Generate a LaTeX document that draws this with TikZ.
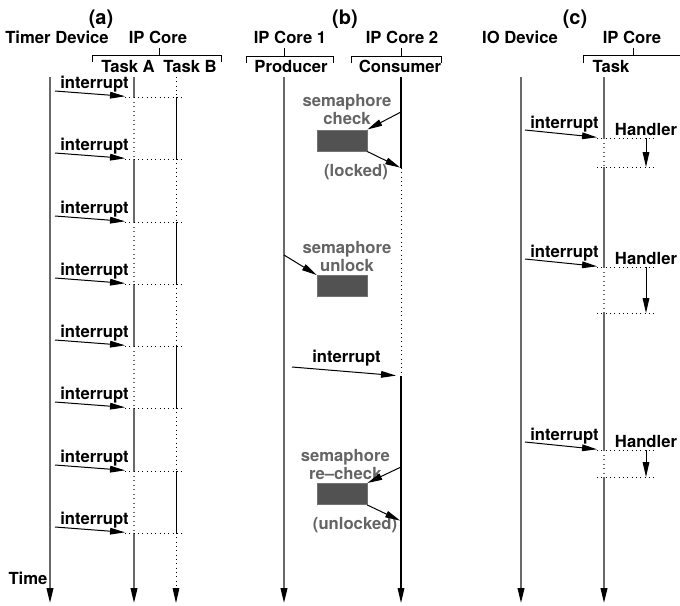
\documentclass[tikz,border=0pt]{standalone}
\usepackage{fontspec}
\setmainfont{TeX Gyre Heros}
\usepackage{tikz}
\usetikzlibrary{positioning, arrows.meta}

\definecolor{lifegray}{RGB}{105,105,105}
\definecolor{semgray}{RGB}{100,100,100}
\definecolor{boxgray}{RGB}{82,82,82}

\begin{document}
\begin{tikzpicture}[x=0.6pt, y=-0.6pt]

% Styles
\tikzset{
	title/.style={font=\large\bfseries, inner sep=0pt},
	head/.style={font=\bfseries, inner sep=0pt},
	lbl/.style={font=\bfseries, inner sep=1pt},
	semlbl/.style={font=\fontsize{10}{9.2}\selectfont\bfseries, text=semgray, align=center, inner sep=0pt},
	sembox/.style={rectangle, draw=black!55, fill=boxgray, minimum width=30pt, minimum height=12.8pt, inner sep=0pt},
	endtip/.style={-{Triangle[length=9pt, width=4pt, color=black]}},
	life/.style={draw=lifegray, line width=1.1pt},
	lifedot/.style={draw=lifegray, line width=0.7pt, dotted},
	thinlife/.style={draw=black, line width=0.55pt},
	thindot/.style={draw=black, line width=0.6pt, dotted},
	arr/.style={draw=black, line width=0.6pt, -{Triangle[length=9pt, width=4pt]}},
	irq/.style={arr, shorten >=5.4pt},
	brace/.style={draw=black, line width=0.6pt}
}

\useasboundingbox (0,0) rectangle (680,605);

% (a) periodic timer interrupts
\node[title] (ta) at (101,19) {(a)};
\node[head] (timer) at (57,37.5) {Timer Device};
\node[head] (corea) at (158,37.5) {IP Core};
\node[head] (taska) at (128,66) {Task A};
\node[head] (taskb) at (190,66) {Task B};
\draw[brace] (92,62) -- (92,55) -- (221,55) -- (221,62) (159,48) -- (159,55);
\node[head] (time) at (28,578) {Time};

\coordinate (tmTop) at (50,77); \coordinate (tmEnd) at (50,603);
\coordinate (aTop) at (134,77); \coordinate (aEnd) at (134,603);
\coordinate (bTop) at (176,77); \coordinate (bEnd) at (176,603);
\coordinate (dl) at (125,77); \coordinate (dr) at (184,77);
\coordinate (a1) at (134,97); \coordinate (ia1) at (55,91);
\coordinate (a2) at (134,159); \coordinate (ia2) at (55,153);
\coordinate (a3) at (134,222); \coordinate (ia3) at (55,216);
\coordinate (a4) at (134,284); \coordinate (ia4) at (55,278);
\coordinate (a5) at (134,346); \coordinate (ia5) at (55,340);
\coordinate (a6) at (134,408); \coordinate (ia6) at (55,402);
\coordinate (a7) at (134,471); \coordinate (ia7) at (55,465);
\coordinate (a8) at (134,533); \coordinate (ia8) at (55,527);

\draw[life, endtip] (tmTop) -- (tmEnd);
\draw[life, endtip] (aTop) -- (a1) (a2) -- (a3) (a4) -- (a5) (a6) -- (a7) (a8) -- (aEnd);
\draw[lifedot] (a1) -- (a2) (a3) -- (a4) (a5) -- (a6) (a7) -- (a8);
\draw[thinlife] (a1 -| bTop) -- (a2 -| bTop) (a3 -| bTop) -- (a4 -| bTop)
	(a5 -| bTop) -- (a6 -| bTop) (a7 -| bTop) -- (a8 -| bTop);
\draw[thindot, endtip] (bTop) -- (a1 -| bTop) (a2 -| bTop) -- (a3 -| bTop)
	(a4 -| bTop) -- (a5 -| bTop) (a6 -| bTop) -- (a7 -| bTop) (a8 -| bTop) -- (bEnd);
\draw[thindot] (a1 -| dl) -- (a1 -| dr) (a2 -| dl) -- (a2 -| dr) (a3 -| dl) -- (a3 -| dr)
	(a4 -| dl) -- (a4 -| dr) (a5 -| dl) -- (a5 -| dr) (a6 -| dl) -- (a6 -| dr)
	(a7 -| dl) -- (a7 -| dr) (a8 -| dl) -- (a8 -| dr);

\draw[irq] (ia1) -- node[lbl, above] {interrupt} (a1);
\draw[irq] (ia2) -- node[lbl, above] {interrupt} (a2);
\draw[irq] (ia3) -- node[lbl, above] {interrupt} (a3);
\draw[irq] (ia4) -- node[lbl, above] {interrupt} (a4);
\draw[irq] (ia5) -- node[lbl, above] {interrupt} (a5);
\draw[irq] (ia6) -- node[lbl, above] {interrupt} (a6);
\draw[irq] (ia7) -- node[lbl, above] {interrupt} (a7);
\draw[irq] (ia8) -- node[lbl, above] {interrupt} (a8);

% (b) producer / consumer with semaphore
\node[title] (tb) at (345,19) {(b)};
\node[head] (core1) at (290,37.5) {IP Core 1};
\node[head] (core2) at (402,37.5) {IP Core 2};
\node[head] (prod) at (291,66) {Producer};
\node[head] (cons) at (400,66) {Consumer};
\draw[brace] (246,63) -- (246,56) -- (333,56) -- (333,63) (284,48) -- (284,56);
\draw[brace] (351,63) -- (351,56) -- (441,56) -- (441,63) (401,48) -- (401,56);

\coordinate (pTop) at (284,77); \coordinate (pEnd) at (284,603);
\coordinate (cTop) at (401,77); \coordinate (cEnd) at (401,603);
\coordinate (c1) at (401,168); \coordinate (c2) at (401,376);
\coordinate (c3) at (401,521);
\draw[life, endtip] (pTop) -- (pEnd);
\draw[thinlife, line width=0.65pt, endtip] (cTop) -- (c1) (c2) -- (cEnd);
\draw[thindot] (c1) -- (c2);

\node[sembox] (chk) at (342,140.5) {};
\node[semlbl, above=3pt of chk, xshift=3pt] (chkl) {semaphore\\check};
\node[semlbl] (lck) at (356,172) {(locked)};
\coordinate (chkIn) at (401,112);
\draw[arr] (chkIn) -- (chk.north east);
\draw[arr, shorten >=0.6pt] (chk.south east) -- (c1);

\node[sembox] (unl) at (342,286) {};
\node[semlbl, above=2pt of unl, xshift=3pt] (unll) {semaphore\\unlock};
\coordinate (unlOut) at (284,255);
\draw[arr] (unlOut) -- (unl.north west);

\coordinate (ib) at (292,367);
\draw[irq, shorten >=3pt] (ib) -- node[lbl, above=2pt] {interrupt} (c2);

\node[sembox] (rchk) at (342,494) {};
\node[semlbl, above=2pt of rchk, xshift=2pt] (rchkl) {semaphore\\re--check};
\node[semlbl] (ulck) at (355,525) {(unlocked)};
\coordinate (rchkIn) at (401,467);
\draw[arr] (rchkIn) -- (rchk.north east);
\draw[arr, shorten >=0.6pt] (rchk.south east) -- (c3);

% (c) IO device interrupts with handler
\node[title] (tc) at (575,19) {(c)};
\node[head] (iodev) at (520,37.5) {IO Device};
\node[head] (corec) at (632,37.5) {IP Core};
\node[head] (taskc) at (611,66) {Task};
\draw[brace] (583,63) -- (583,55) -- (680,55) (633,48) -- (633,55);

\coordinate (ioTop) at (521,77); \coordinate (ioEnd) at (521,603);
\coordinate (kTop) at (604,77); \coordinate (kEnd) at (604,603);
\coordinate (hl) at (597,77); \coordinate (hr) at (654,77);
\coordinate (hx) at (646,77);
\coordinate (k1) at (604,138); \coordinate (k2) at (604,167);
\coordinate (k3) at (604,267); \coordinate (k4) at (604,313);
\coordinate (k5) at (604,450); \coordinate (k6) at (604,477);
\coordinate (ic1) at (525,130); \coordinate (ic2) at (525,259);
\coordinate (ic3) at (525,442);

\draw[life, endtip] (ioTop) -- (ioEnd);
\draw[life, endtip] (kTop) -- (k1) (k2) -- (k3) (k4) -- (k5) (k6) -- (kEnd);
\draw[lifedot] (k1) -- (k2) (k3) -- (k4) (k5) -- (k6);
\draw[thindot] (k1 -| hl) -- (k1 -| hr) (k2 -| hl) -- (k2 -| hr)
	(k3 -| hl) -- (k3 -| hr) (k4 -| hl) -- (k4 -| hr)
	(k5 -| hl) -- (k5 -| hr) (k6 -| hl) -- (k6 -| hr);

\draw[irq, shorten >=4.2pt] (ic1) -- node[lbl, above] {interrupt} (k1);
\draw[irq, shorten >=4.2pt] (ic2) -- node[lbl, above] {interrupt} (k3);
\draw[irq, shorten >=4.2pt] (ic3) -- node[lbl, above] {interrupt} (k5);

\draw[arr] (k1 -| hx) -- (k2 -| hx);
\draw[arr] (k3 -| hx) -- (k4 -| hx);
\draw[arr] (k5 -| hx) -- (k6 -| hx);
\node[lbl, above] (hd1) at (k1 -| hx) {Handler};
\node[lbl, above] (hd2) at (k3 -| hx) {Handler};
\node[lbl, above] (hd3) at (k5 -| hx) {Handler};

\end{tikzpicture}
\end{document}
